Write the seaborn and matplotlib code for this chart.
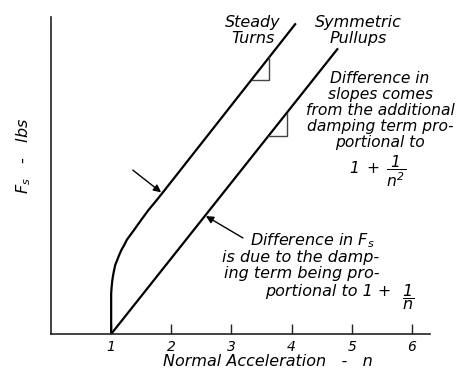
import matplotlib
matplotlib.use("Agg")
import matplotlib.pyplot as plt
import seaborn as sns

# ---- data (arbitrary force units) ----
turn_n = [1.0, 1.0, 1.0, 1.0, 1.008, 1.02, 1.033, 1.05, 1.068, 1.10, 1.133, 1.17, 1.218,
          1.26, 1.38, 1.50, 1.62, 1.76, 1.89, 4.07]
turn_F = [0.0, 0.44, 0.86, 1.28, 1.49, 1.70, 1.86, 2.02, 2.18, 2.33, 2.49, 2.65, 2.81,
          2.97, 3.28, 3.60, 3.91, 4.23, 4.54, 9.80]
pull_n = [1.0, 4.77]
pull_F = [0.0, 9.01]
x_ticks = [1, 2, 3, 4, 5, 6]
x_tick_labels = ["1", "2", "3", "4", "5", "6"]

W, H = 458, 372
sns.set_theme(style="white")
plt.rcParams["font.family"] = ["DejaVu Sans"]
plt.rcParams["mathtext.fontset"] = "custom"
plt.rcParams["mathtext.rm"] = "DejaVu Sans:italic"
plt.rcParams["mathtext.it"] = "DejaVu Sans:italic"
plt.rcParams["mathtext.sf"] = "DejaVu Sans:italic"
plt.rcParams["text.color"] = "black"
plt.rcParams["axes.labelcolor"] = "black"

fig = plt.figure(figsize=(W / 100, H / 100), dpi=100)
ax = fig.add_axes([51 / W, 38 / H, 379 / W, 317 / H])

lw = 1.6
sns.lineplot(x=turn_n, y=turn_F, sort=False, estimator=None, ax=ax,
             color="black", linewidth=lw, solid_joinstyle="round", solid_capstyle="butt")
sns.lineplot(x=pull_n, y=pull_F, sort=False, estimator=None, ax=ax,
             color="black", linewidth=lw, solid_capstyle="butt")

ax.set_xlim(0, 6.3)
ax.set_ylim(0, 10)
for s in ["top", "right"]:
    ax.spines[s].set_visible(False)
for s in ["left", "bottom"]:
    ax.spines[s].set_color("#222222")
    ax.spines[s].set_linewidth(1.2)

ax.set_xticks(x_ticks)
ax.set_xticklabels(x_tick_labels, fontstyle="italic", fontsize=10)
ax.set_yticks([])
ax.tick_params(axis="x", direction="in", length=7, width=1.0, color="#222222",
               pad=4, labelcolor="black", bottom=True)

ax.set_xlabel("Normal Acceleration   -   n", fontstyle="italic", fontsize=11.5, color="black")
ax.xaxis.set_label_coords((268 - 51) / 379, (334 - 354) / 317)
ax.set_ylabel(r"$F_s$   -   lbs", fontstyle="italic", fontsize=11.5, color="black")
ax.yaxis.set_label_coords((33 - 51) / 379, (334 - 156) / 317)

# slope triangles under each straight line
def tri(n0, n1, na, Fa, nb, Fb):
    slope = (Fb - Fa) / (nb - na)
    f0 = Fa + slope * (n0 - na)
    f1 = Fa + slope * (n1 - na)
    ax.plot([n0, n1, n1], [f0, f0, f1], color="#444444", lw=1.0, solid_joinstyle="miter")

tri(3.334, 3.63, turn_n[-2], turn_F[-2], turn_n[-1], turn_F[-1])
tri(3.61, 3.915, pull_n[0], pull_F[0], pull_n[1], pull_F[1])

# arrows
arrow = dict(arrowstyle="-|>", color="black", lw=1.0, mutation_scale=11, shrinkA=0, shrinkB=0)
ax.annotate("", xy=(1.83, 4.47), xytext=(1.36, 5.17), arrowprops=arrow)
ax.annotate("", xy=(2.575, 3.72), xytext=(3.19, 3.03), arrowprops=arrow)

def ft(px, py, s, ha="center", va="baseline", size=11.5, **kw):
    fig.text(px / W, 1 - py / H, s, ha=ha, va=va, fontsize=size,
             fontstyle="italic", color="black", **kw)

ft(253, 27.5, "Steady")
ft(253, 43.3, "Turns")
ft(358, 27.5, "Symmetric")
ft(358, 43.3, "Pullups")

for txt, y in [("Difference in", 83), ("slopes comes", 99), ("from the additional", 115),
               ("damping term pro-", 131), ("portional to", 147)]:
    ft(380, y, txt, size=11.2)
ft(378, 171, r"$1\;+\;\dfrac{1}{n^2}$", va="center", size=11.2)

ft(250, 245, r"Difference in $F_s$", ha="left")
ft(222, 262, "is due to the damp-", ha="left")
ft(224, 278, "ing term being pro-", ha="left")
ft(265, 296, "portional to 1 +", ha="left")
ft(408, 297, r"$\dfrac{1}{n}$", va="center")

fig.savefig("out.png", dpi=100)
